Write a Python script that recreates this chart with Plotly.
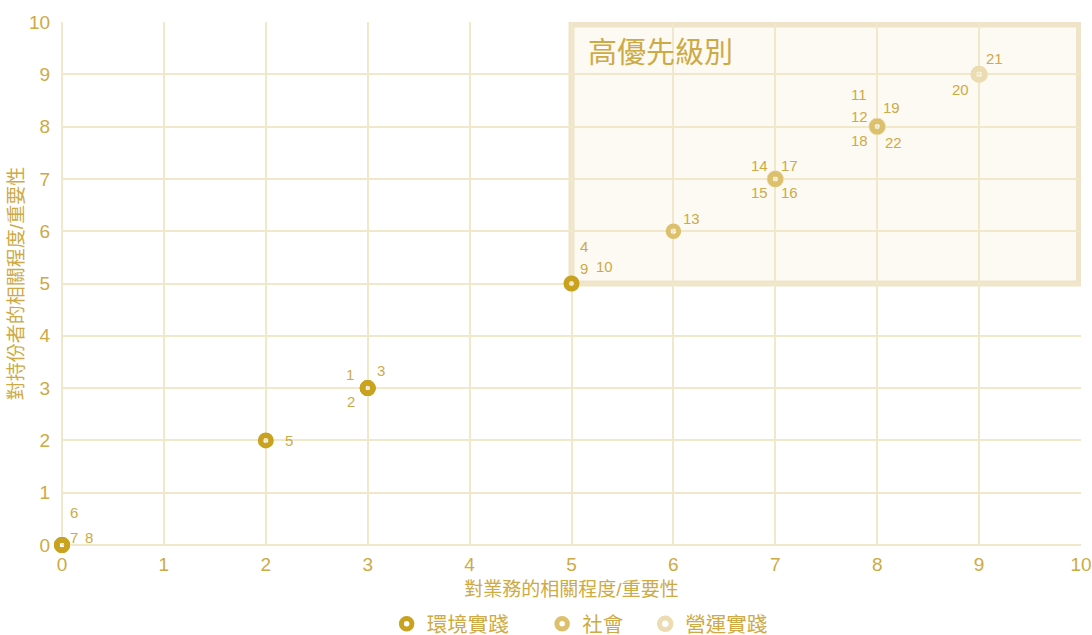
import plotly.graph_objects as go

# ---- data ----
env_ids = ["1", "2", "3", "4", "5", "6", "7", "8"]
env_x = [3, 3, 3, 5, 2, 0, 0, 0]
env_y = [3, 3, 3, 5, 2, 0, 0, 0]

soc_ids = ["9", "10", "11", "12", "13", "14", "15"]
soc_x = [5, 5, 8, 8, 6, 7, 7]
soc_y = [5, 5, 8, 8, 6, 7, 7]

ops_ids = ["16", "17", "18", "19", "20", "21", "22"]
ops_x = [7, 7, 8, 8, 9, 9, 8]
ops_y = [7, 7, 8, 8, 9, 9, 8]

series_names = ["環境實踐", "社會", "營運實踐"]
x_title = "對業務的相關程度/重要性"
y_title = "對持份者的相關程度/重要性"
box_title = "高優先級別"

# ---- style ----
C_ENV = "#c9a21f"
C_SOC = "#dcc06c"
C_OPS = "#ebdcb2"
TXT = "#cdaa45"
GRID = "#f1e7cb"
FONT = "Liberation Sans, Noto Sans CJK TC, sans-serif"
NB = "\u00a0"

# label pixel offsets (dx right, dy up)
label_offsets = {
    "1": (-18, 14), "2": (-17, -13), "3": (13, 18), "4": (12, 37),
    "5": (23, 0), "6": (12, 33), "7": (12, 8), "8": (27, 8),
    "9": (12, 15), "10": (33, 17), "11": (-18, 32), "12": (-18, 10),
    "13": (18, 13), "14": (-16, 13), "15": (-16, -14), "16": (14, -14),
    "17": (14, 13), "18": (-18, -14), "19": (14, 19), "20": (-19, -15),
    "21": (15, 16), "22": (16, -16),
}

fig = go.Figure()

def ring(name, xs, ys, color, size, lw, rank):
    fig.add_trace(go.Scatter(
        x=xs, y=ys, mode="markers", name=name, legendrank=rank,
        marker=dict(symbol="circle-open", size=size, color=color,
                    line=dict(width=lw, color=color)),
        hoverinfo="skip", cliponaxis=False,
    ))

ring(series_names[2], ops_x, ops_y, C_OPS, 11.5, 5.5, 3)
ring(series_names[1] + NB * 3, soc_x, soc_y, C_SOC, 10.5, 5, 2)
ring(series_names[0] + NB * 5, env_x, env_y, C_ENV, 10.5, 5.5, 1)

# point labels
for ids, xs, ys in [(env_ids, env_x, env_y), (soc_ids, soc_x, soc_y), (ops_ids, ops_x, ops_y)]:
    for i, xv, yv in zip(ids, xs, ys):
        dx, dy = label_offsets[i]
        fig.add_annotation(x=xv, y=yv, text=i, showarrow=False,
                           xshift=dx, yshift=dy,
                           font=dict(size=15, color=TXT, family=FONT))

# high priority region
fig.add_shape(type="rect", x0=5, x1=9.98, y0=5, y1=9.95, layer="below",
              line=dict(color="rgba(238,227,198,0.95)", width=6),
              fillcolor="rgba(248,243,228,0.45)")
fig.add_annotation(x=5, y=9.41, text=box_title, showarrow=False,
                   xanchor="left", xshift=14,
                   font=dict(size=29, color=TXT, family=FONT))

axis_common = dict(
    range=[0, 10], dtick=1, tick0=0, automargin=False,
    showgrid=True, gridcolor=GRID, gridwidth=1.5,
    zeroline=True, zerolinecolor=GRID, zerolinewidth=1.5,
    showline=False, ticks="outside",
    tickcolor="rgba(0,0,0,0)",
    tickfont=dict(size=19, color=TXT, family=FONT),
    fixedrange=True,
)

fig.update_layout(
    width=1092, height=635,
    margin=dict(l=62, r=11, t=22, b=90),
    paper_bgcolor="white", plot_bgcolor="white",
    xaxis=dict(**axis_common, ticklen=2,
               title=dict(text=x_title, standoff=8,
                          font=dict(size=19, color=TXT, family=FONT))),
    yaxis=dict(**axis_common, ticklen=7,
               title=dict(text=y_title, standoff=0,
                          font=dict(size=19, color=TXT, family=FONT))),
    legend=dict(orientation="h", x=0.508, xanchor="center",
                yref="container", y=11 / 635, yanchor="middle",
                font=dict(size=20.5, color=TXT, family=FONT),
                itemwidth=30),
    showlegend=True,
)

fig.write_html(
    "out.html",
    config={"displayModeBar": False},
    post_script="document.body.style.margin='0';document.body.style.overflow='hidden';",
)
